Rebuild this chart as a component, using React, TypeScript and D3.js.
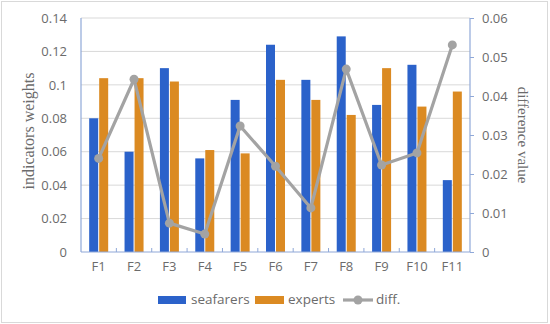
import React, { useEffect, useRef } from "react";
import * as d3 from "d3";

const categories = ["F1", "F2", "F3", "F4", "F5", "F6", "F7", "F8", "F9", "F10", "F11"];
const seafarers = [0.080, 0.060, 0.110, 0.056, 0.091, 0.124, 0.103, 0.129, 0.088, 0.112, 0.043];
const experts = [0.104, 0.104, 0.102, 0.061, 0.059, 0.103, 0.091, 0.082, 0.110, 0.087, 0.096];
const diff = [0.024, 0.0443, 0.0074, 0.0046, 0.0323, 0.022, 0.0113, 0.0469, 0.0223, 0.0254, 0.0531];
const leftTicks = [0, 0.02, 0.04, 0.06, 0.08, 0.1, 0.12, 0.14];
const rightTicks = [0, 0.01, 0.02, 0.03, 0.04, 0.05, 0.06];

const BLUE = "#2B62CA";
const ORANGE = "#DB8A22";
const GREY = "#A3A3A3";
const TEXT = "#6b6b6b";
const AXIS = "#8FA8D8";
const SANS = "'Open Sans', 'Noto Sans', sans-serif";
const SERIF = "Liberation Serif, DejaVu Serif, serif";

const App: React.FC = () => {
  const svgRef = useRef<SVGSVGElement | null>(null);

  useEffect(() => {
    if (!svgRef.current) return;
    const width = 550;
    const height = 324;
    const margin = { top: 18, right: 80, bottom: 72, left: 81 };
    const innerWidth = width - margin.left - margin.right;
    const innerHeight = height - margin.top - margin.bottom;

    const root = d3.select(svgRef.current);
    root.selectAll("*").remove();
    root.attr("width", width).attr("height", height);

    root.append("rect")
      .attr("x", 1.5).attr("y", 1.5)
      .attr("width", width - 4).attr("height", height - 3)
      .attr("fill", "#fff").attr("stroke", "#d9d9d9");

    const svg = root.append("g").attr("transform", `translate(${margin.left},${margin.top})`);

    const x = d3.scaleBand().domain(categories).range([0, innerWidth]);
    const yL = d3.scaleLinear().domain([0, 0.14]).range([innerHeight, 0]);
    const yR = d3.scaleLinear().domain([0, 0.06]).range([innerHeight, 0]);
    const barW = 9;

    // gridlines
    svg.append("g")
      .selectAll("line")
      .data(leftTicks.slice(1))
      .enter()
      .append("line")
      .attr("x1", 0).attr("x2", innerWidth)
      .attr("y1", d => yL(d)).attr("y2", d => yL(d))
      .attr("stroke", "#d9d9d9").attr("stroke-width", 1);

    // bars
    svg.append("g")
      .selectAll("rect")
      .data(seafarers)
      .enter()
      .append("rect")
      .attr("x", (d, i) => x(categories[i])! + x.bandwidth() / 2 - barW - 0.5)
      .attr("y", d => yL(d))
      .attr("width", barW)
      .attr("height", d => innerHeight - yL(d))
      .attr("fill", BLUE);

    svg.append("g")
      .selectAll("rect")
      .data(experts)
      .enter()
      .append("rect")
      .attr("x", (d, i) => x(categories[i])! + x.bandwidth() / 2 + 0.5)
      .attr("y", d => yL(d))
      .attr("width", barW)
      .attr("height", d => innerHeight - yL(d))
      .attr("fill", ORANGE);

    // axes
    const axisL = svg.append("g").call(d3.axisLeft(yL).tickValues(leftTicks).tickSize(0).tickPadding(14).tickFormat(d => String(+d)));
    const axisR = svg.append("g").attr("transform", `translate(${innerWidth},0)`)
      .call(d3.axisRight(yR).tickValues(rightTicks).tickSize(4).tickPadding(8).tickFormat(d => String(+d)));
    const axisB = svg.append("g").attr("transform", `translate(0,${innerHeight})`)
      .call(d3.axisBottom(x).tickSize(0).tickPadding(10));

    [axisL, axisR, axisB].forEach(a => {
      a.select(".domain").attr("stroke", AXIS).attr("stroke-width", 1.2);
      a.selectAll(".tick line").attr("stroke", AXIS);
      a.selectAll("text")
        .attr("fill", TEXT)
        .attr("font-family", SANS)
        .attr("font-size", 13);
    });
    axisR.select(".domain").attr("d", `M0,0V${innerHeight}`);
    axisL.select(".domain").attr("d", `M0,0V${innerHeight}`);
    axisB.select(".domain").attr("d", `M0,0H${innerWidth}`);

    // category separator ticks
    svg.append("g")
      .selectAll("line")
      .data(categories.slice(1))
      .enter()
      .append("line")
      .attr("x1", d => x(d)!).attr("x2", d => x(d)!)
      .attr("y1", innerHeight).attr("y2", innerHeight - 4)
      .attr("stroke", AXIS);

    // diff line
    const line = d3.line<number>()
      .x((d, i) => x(categories[i])! + x.bandwidth() / 2)
      .y(d => yR(d));
    svg.append("path")
      .datum(diff)
      .attr("d", line)
      .attr("fill", "none")
      .attr("stroke", GREY)
      .attr("stroke-width", 3.2)
      .attr("stroke-linejoin", "round");
    svg.append("g")
      .selectAll("circle")
      .data(diff)
      .enter()
      .append("circle")
      .attr("cx", (d, i) => x(categories[i])! + x.bandwidth() / 2)
      .attr("cy", d => yR(d))
      .attr("r", 4.5)
      .attr("fill", GREY);

    // axis titles
    root.append("text")
      .attr("transform", `translate(30,131) rotate(-90)`)
      .attr("text-anchor", "middle")
      .attr("dominant-baseline", "middle")
      .attr("fill", TEXT)
      .attr("font-family", SERIF)
      .attr("font-size", 16)
      .text("indicators weights");
    root.append("text")
      .attr("transform", `translate(521,135) rotate(90)`)
      .attr("text-anchor", "middle")
      .attr("dominant-baseline", "middle")
      .attr("fill", TEXT)
      .attr("font-family", SERIF)
      .attr("font-size", 15)
      .text("difference value");

    // legend
    const leg = root.append("g").attr("font-family", SANS).attr("font-size", 13.5);
    const ly = 300;
    leg.append("rect").attr("x", 158).attr("y", ly - 4).attr("width", 28).attr("height", 8).attr("fill", BLUE);
    leg.append("text").attr("x", 191).attr("y", ly).attr("dominant-baseline", "middle").attr("fill", TEXT).text("seafarers");
    leg.append("rect").attr("x", 255).attr("y", ly - 4).attr("width", 29).attr("height", 8).attr("fill", ORANGE);
    leg.append("text").attr("x", 288).attr("y", ly).attr("dominant-baseline", "middle").attr("fill", TEXT).text("experts");
    leg.append("line").attr("x1", 343).attr("x2", 373).attr("y1", ly).attr("y2", ly).attr("stroke", GREY).attr("stroke-width", 3.2);
    leg.append("circle").attr("cx", 358).attr("cy", ly).attr("r", 4.5).attr("fill", GREY);
    leg.append("text").attr("x", 376).attr("y", ly).attr("dominant-baseline", "middle").attr("fill", TEXT).text("diff.");
  }, []);

  return <svg ref={svgRef} style={{ position: "absolute", left: 0, top: 0 }}></svg>;
};

export default App;
